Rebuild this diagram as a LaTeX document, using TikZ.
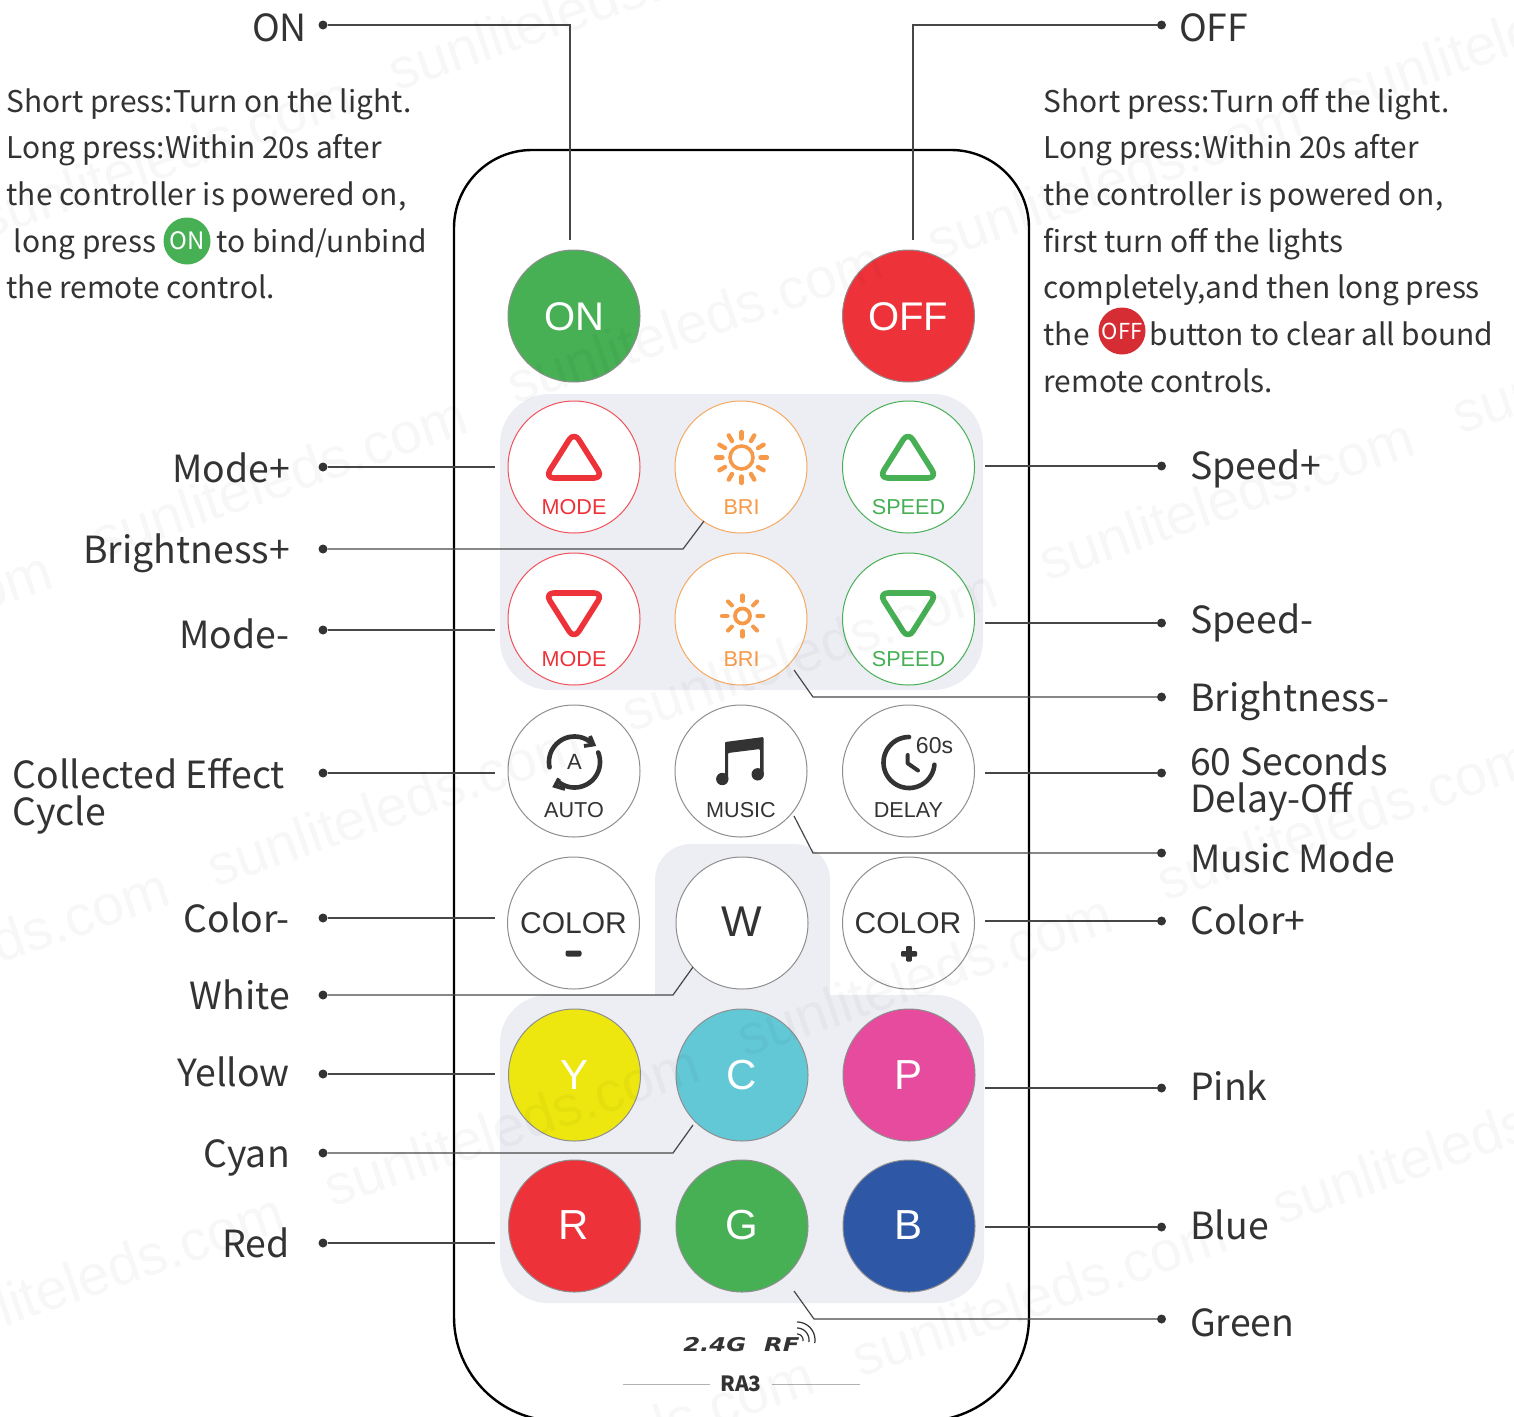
\documentclass[tikz,border=0pt]{standalone}
\usepackage{fontspec}
\setmainfont{Liberation Sans}
\newfontfamily\cjkf{Noto Sans CJK SC}
\newfontfamily\rff{DejaVu Sans}
\definecolor{ink}{HTML}{333333}
\definecolor{panel}{HTML}{ECEEF4}
\definecolor{cGreen}{HTML}{47B055}
\definecolor{cRed}{HTML}{EE323A}
\definecolor{cOrange}{HTML}{F69A4A}
\definecolor{cOrangeL}{HTML}{F5A95F}
\definecolor{cYellow}{HTML}{EDE70F}
\definecolor{cCyan}{HTML}{63C8D6}
\definecolor{cPink}{HTML}{E64B9D}
\definecolor{cBlue}{HTML}{2E57A6}
\definecolor{cRim}{HTML}{8E8E8E}
\newcommand{\fs}[1]{\fontsize{#1}{#1}\selectfont}
\tikzset{
  x=1pt,y=-1pt,
  btn/.style={circle,minimum size=132,inner sep=0,line width=1pt,draw=cRim,fill=white},
  colbtn/.style={btn,fill=#1,draw=cRim,text=white,font=\fs{40}},
  captxt/.style={anchor=base,inner sep=0,font=\fs{21.6}},
  lablL/.style={anchor=base east,inner sep=0,text=ink,font=\cjkf\fs{37.4}},
  lablR/.style={anchor=base west,inner sep=0,text=ink,font=\cjkf\fs{37.4}},
  bodytxt/.style={anchor=base west,inner sep=0,text=ink,font=\cjkf\fs{29.9}},
  dotn/.style={circle,fill=ink,inner sep=0,minimum size=9},
  conn/.style={draw=ink!90,line width=1.2pt},
  icon/.style={line width=5.6pt,line join=round,rounded corners=9pt},
  rayline/.style={line cap=round},
  wmark/.style={anchor=base west,inner sep=0,rotate=19,text=black,text opacity=.03,font=\fs{57}},
}
\begin{document}
\begin{tikzpicture}
\useasboundingbox (0,0) rectangle (1514,1416);
\clip (0,0) rectangle (1514,1416);
% panels
\fill[panel,rounded corners=50pt] (500,394) rectangle (983,690);
\fill[panel,rounded corners=36pt] (655,844) rectangle (830,1040);
\fill[panel,rounded corners=48pt] (500,995) rectangle (984,1303);
% remote outline
\draw[black,line width=2.4pt] (454,800) [rounded corners=78pt] -- (454,150) -- (1029,150) -- (1029,800) [rounded corners=104pt] -- (1029,1421) -- (454,1421) -- cycle;

% buttons
\node[colbtn=cGreen] (bOn) at (574,316) {};
\node[colbtn=cRed] (bOff) at (908.5,316) {};
\node[btn,draw=cRed!85] (bMp) at (574,467) {};
\node[btn,draw=cOrangeL] (bBp) at (741,467) {};
\node[btn,draw=cGreen] (bSp) at (908.5,467) {};
\node[btn,draw=cRed!85] (bMm) at (574,619) {};
\node[btn,draw=cOrangeL] (bBm) at (741,619) {};
\node[btn,draw=cGreen] (bSm) at (908.5,619) {};
\node[btn] (bAuto) at (574,771) {};
\node[btn] (bMusic) at (741,771) {};
\node[btn] (bDelay) at (908.5,771) {};
\node[btn] (bCm) at (573.5,923) {};
\node[btn] (bW) at (742,923) {};
\node[btn] (bCp) at (908.5,923) {};
\node[colbtn=cYellow] (bY) at (574.5,1075) {};
\node[colbtn=cCyan] (bC) at (742,1075) {};
\node[colbtn=cPink] (bP) at (909,1075) {};
\node[colbtn=cRed] (bR) at (574.5,1226) {};
\node[colbtn=cGreen] (bG) at (742,1226) {};
\node[colbtn=cBlue] (bB) at (909,1226) {};

% button texts
\node[anchor=base,inner sep=0,text=white,font=\fs{40}] (tOn) at (574.5,330) {ON};
\node[anchor=base,inner sep=0,text=white,font=\fs{40}] (tOff) at (908,330) {OFF};
\node[captxt,text=cRed] (tMp) at (574,514) {MODE};
\node[captxt,text=cOrange] (tBp) at (741.5,514) {BRI};
\node[captxt,text=cGreen] (tSp) at (908.5,514) {SPEED};
\node[captxt,text=cRed] (tMm) at (574,666) {MODE};
\node[captxt,text=cOrange] (tBm) at (741.5,666) {BRI};
\node[captxt,text=cGreen] (tSm) at (908.5,666) {SPEED};
\node[captxt,text=ink] (tAuto) at (574,817) {AUTO};
\node[captxt,text=ink] (tMusic) at (741,817) {MUSIC};
\node[captxt,text=ink] (tDelay) at (908.5,817) {DELAY};
\node[captxt,text=ink,font=\fs{22}] (tA) at (574.5,769) {A};
\node[captxt,text=ink,font=\fs{23}] (t60) at (934.5,753) {60s};
\node[anchor=base,inner sep=0,text=ink,font=\fs{30}] (tCm) at (573.5,933) {COLOR};
\node[anchor=base,inner sep=0,text=ink,font=\fs{30}] (tCp) at (908,933) {COLOR};
\node[anchor=base,inner sep=0,text=ink,font=\fs{43}] (tW) at (742,936) {W};
\foreach \n/\t/\px/\py in {tY/Y/574.5/1089, tC/C/741.5/1089, tP/P/908.5/1089, tR/R/574/1239, tG/G/742/1239, tB/B/908.5/1239}
  \node[anchor=base,inner sep=0,text=white,font=\fs{42}] (\n) at (\px,\py) {\t};

% icons: triangles
\foreach \cx/\col in {574/cRed,908/cGreen}{
  \draw[icon,draw=\col] (\cx,432) -- (\cx+29,478) -- (\cx-29,478) -- cycle;
  \draw[icon,draw=\col] (\cx,639) -- (\cx+29,593) -- (\cx-29,593) -- cycle;
}
% suns
\draw[cOrange,line width=3.6pt] (741.5,457.5) circle[radius=11.5pt];
\foreach \a in {0,30,...,330}
  \draw[cOrange,line width=4.4pt,rayline] ({741.5+19*cos(\a)},{457.5+19*sin(\a)}) -- ({741.5+25.5*cos(\a)},{457.5+25.5*sin(\a)});
\draw[cOrange,line width=3.8pt] (742.5,616) circle[radius=7.5pt];
\foreach \a in {0,45,...,315}
  \draw[cOrange,line width=4.2pt,rayline] ({742.5+15*cos(\a)},{616+15*sin(\a)}) -- ({742.5+20.5*cos(\a)},{616+20.5*sin(\a)});
% auto
\draw[ink,line width=4.6pt,line cap=round] plot[domain=192:52,samples=40] ({574.5+25.5*cos(\x)},{762-25.5*sin(\x)});
\draw[ink,line width=4.6pt,line cap=round] plot[domain=22:-128,samples=40] ({574.5+25.5*cos(\x)},{762-25.5*sin(\x)});
\draw[ink,line width=3.8pt,line join=miter] (590,736) -- (593.5,744.5) -- (584,746);
\draw[ink,line width=3.8pt,line join=miter] (559,778.5) -- (555,786) -- (565,789);
% music
\fill[ink,rounded corners=1pt] (725,742) -- (763.5,737) -- (763.5,776) -- (760,776) -- (760,749) -- (728,753) -- (728,780) -- (725,780) -- cycle;
\fill[ink] (722.3,779) circle[radius=6.2pt];
\fill[ink] (757.7,774.3) circle[radius=6.2pt];
% delay
\draw[ink,line width=4.6pt,line cap=round] plot[domain=90:355,samples=50] ({909+25.5*cos(\x)},{762.5-25.5*sin(\x)});
\draw[ink,line width=4pt,line cap=round,line join=round] (907.7,755) -- (907.7,763.3) -- (918,770.5);
% minus, plus
\fill[ink,rounded corners=2pt] (565.5,950.5) rectangle (581.5,956.5);
\fill[ink,rounded corners=1pt] (901,951) rectangle (917,956.5);
\fill[ink,rounded corners=1pt] (906.2,946) rectangle (911.8,961.5);

% 2.4G RF
\node[anchor=base west,inner sep=0,text=ink,font=\rff\fs{19}\bfseries\itshape,xscale=1.28,transform shape] (tRf) at (683,1351) {2.4G\hspace{14pt}RF};
\foreach \r in {6,12,18}
  \draw[ink,line width=1.2pt] plot[domain=90:-10,samples=20] ({797+\r*cos(\x)},{1340-\r*sin(\x)});
\node[anchor=base,inner sep=0,text=ink,font=\cjkf\bfseries\fs{21}] (tRa) at (741,1391) {RA3};
\coordinate (ra1) at (623,1384); \coordinate (ra2) at (710,1384);
\coordinate (ra3) at (772,1384); \coordinate (ra4) at (860,1384);
\draw[black!30,line width=1pt] (ra1) -- (ra2);
\draw[black!30,line width=1pt] (ra3) -- (ra4);

% dots
\foreach \n/\px/\py in {dOn/323/25,dMp/323/467,dBp/323/549,dMm/323/630,dAuto/323/773,dCm/323/918,dW/323/995,dY/323/1074,dC/323/1153,dR/323/1243,
  dOff/1161.5/25,dSp/1161.5/466,dSm/1161.5/623,dBm/1161.5/697,dDelay/1161.5/773,dMusic/1161.5/853,dCp/1161.5/921,dP/1161.5/1088,dB/1161.5/1227,dG/1161.5/1319}
  \node[dotn] (\n) at (\px,\py) {};

% connector ends
\coordinate (eOn) at (570,240);
\coordinate (eOff) at (913,240);
\coordinate (eMp) at (495,467);
\coordinate (kBp) at (683,549); \coordinate (eBp) at (704,521);
\coordinate (eMm) at (495,630);
\coordinate (eAuto) at (495,773);
\coordinate (eCm) at (495,918);
\coordinate (kW) at (673,995); \coordinate (eW) at (693,967);
\coordinate (eY) at (495,1074);
\coordinate (kC) at (673,1153); \coordinate (eC) at (693,1125);
\coordinate (eR) at (495,1243);
\coordinate (eSp) at (985,466);
\coordinate (eSm) at (985,623);
\coordinate (kBm) at (813,697); \coordinate (eBm) at (794,670);
\coordinate (eDelay) at (985,773);
\coordinate (kMusic) at (813,853); \coordinate (eMusic) at (794,816);
\coordinate (eCp) at (985,921);
\coordinate (eP) at (985,1088);
\coordinate (eB) at (985,1227);
\coordinate (kG) at (814,1319); \coordinate (eG) at (794,1291);

\draw[conn] (dOn) -| (eOn);
\draw[conn] (dOff) -| (eOff);
\draw[conn] (dMp) -- (eMp);
\draw[conn] (dBp) -- (kBp) -- (eBp);
\draw[conn] (dMm) -- (eMm);
\draw[conn] (dAuto) -- (eAuto);
\draw[conn] (dCm) -- (eCm);
\draw[conn] (dW) -- (kW) -- (eW);
\draw[conn] (dY) -- (eY);
\draw[conn] (dC) -- (kC) -- (eC);
\draw[conn] (dR) -- (eR);
\draw[conn] (dSp) -- (eSp);
\draw[conn] (dSm) -- (eSm);
\draw[conn] (dBm) -- (kBm) -- (eBm);
\draw[conn] (dDelay) -- (eDelay);
\draw[conn] (dMusic) -- (kMusic) -- (eMusic);
\draw[conn] (dCp) -- (eCp);
\draw[conn] (dP) -- (eP);
\draw[conn] (dB) -- (eB);
\draw[conn] (dG) -- (kG) -- (eG);

% left labels
\node[lablL] (lOn) at (307,41) {ON};
\node[lablL] (lMp) at (290,482) {Mode+};
\node[lablL] (lBp) at (290,563) {Brightness+};
\node[lablL] (lMm) at (290,648) {Mode-};
\node[lablR] (lAuto1) at (12.5,788) {Collected Effect};
\node[lablR] (lAuto2) at (12.5,825) {Cycle};
\node[lablL] (lCm) at (290,932) {Color-};
\node[lablL] (lW) at (290,1009) {White};
\node[lablL] (lY) at (290,1086.5) {Yellow};
\node[lablL] (lC) at (290,1167.5) {Cyan};
\node[lablL] (lR) at (290,1257) {Red};
% right labels
\node[lablR] (lOff) at (1179,41) {OFF};
\node[lablR] (lSp) at (1190,479) {Speed+};
\node[lablR] (lSm) at (1190,633) {Speed-};
\node[lablR] (lBm) at (1190,711) {Brightness-};
\node[lablR] (lD1) at (1190,775) {60 Seconds};
\node[lablR] (lD2) at (1190,812) {Delay-Off};
\node[lablR] (lMusic) at (1190,872) {Music Mode};
\node[lablR] (lCp) at (1190,934) {Color+};
\node[lablR] (lP) at (1190,1100) {Pink};
\node[lablR] (lB) at (1190,1239) {Blue};
\node[lablR] (lG) at (1190,1336) {Green};

% left paragraph
\node[bodytxt] (p1) at (6.5,112) {Short press:Turn on the light.};
\node[bodytxt] (p2) at (6.5,158.5) {Long press:Within 20s after};
\node[bodytxt] (p3) at (6.5,205) {the controller is powered on,};
\node[bodytxt] (p4) at (13.5,252) {long press};
\node[circle,fill=cGreen,minimum size=47,inner sep=0] (iOn) at (187,241) {};
\node[anchor=center,inner sep=0,text=white,font=\cjkf\fs{24}] (iOnT) at (187,241) {ON};
\node[bodytxt] (p4b) at (216.5,252) {to bind/unbind};
\node[bodytxt] (p5) at (6.5,298) {the remote control.};
% right paragraph
\node[bodytxt] (q1) at (1043.5,112) {Short press:Turn off the light.};
\node[bodytxt] (q2) at (1043.5,158.5) {Long press:Within 20s after};
\node[bodytxt] (q3) at (1043.5,205) {the controller is powered on,};
\node[bodytxt] (q4) at (1043.5,252) {first turn off the lights};
\node[bodytxt] (q5) at (1043.5,298.5) {completely,and then long press};
\node[bodytxt] (q6) at (1043.5,345) {the};
\node[circle,fill=cRed!90!black,minimum size=47,inner sep=0] (iOff) at (1122,331) {};
\node[anchor=center,inner sep=0,text=white,font=\cjkf\fs{22}] (iOffT) at (1122,331) {OFF};
\node[bodytxt] (q6b) at (1149.5,345) {button to clear all bound};
\node[bodytxt] (q7) at (1043.5,392) {remote controls.};

% watermark
\foreach \n/\px/\py in {wa/-15/240, wb/396/92, wc/515/405, wd/935/262, we/1047/582, wf/1345/113, wg/1460/435, wh/100/560, wi/-315/715, wj/630/733, wk/215/888, wl/1165/902, wm1/-198/1032, wn/745/1058, wo/332/1208, wp/1280/1226, wq/-83/1357, wr/860/1378, ws/447/1520}
  \node[wmark] (\n) at (\px,\py) {sunliteleds.com};
\end{tikzpicture}
\end{document}
